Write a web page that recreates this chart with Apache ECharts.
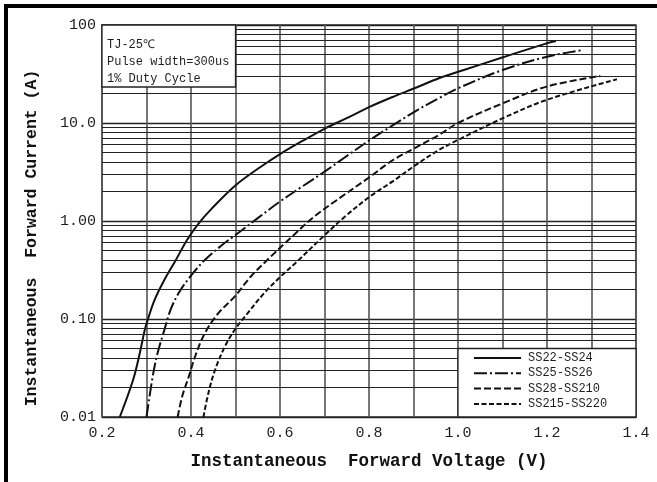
<!DOCTYPE html>
<html><head><meta charset="utf-8">
<script src="https://cdn.jsdelivr.net/npm/echarts@6/dist/echarts.min.js"></script>
<style>html,body{margin:0;padding:0;background:#fff}#c{width:657px;height:482px}</style>
</head><body><div id="c"></div>
<script>
// ---- data (V in volts, I in amps) ----
const seriesNames = ['SS22-SS24', 'SS25-SS26', 'SS28-SS210', 'SS215-SS220'];

const ss22V = [0.240, 0.270, 0.285, 0.296, 0.303, 0.318, 0.340, 0.366, 0.391, 0.416, 0.446, 0.501, 0.557, 0.601, 0.654, 0.702, 0.750, 0.800, 0.854, 0.902, 0.957, 1.013, 1.101, 1.199, 1.220];
const ss22I = [0.010, 0.024, 0.045, 0.077, 0.099, 0.156, 0.250, 0.400, 0.640, 0.93, 1.33, 2.33, 3.58, 4.85, 6.7, 8.83, 11.2, 14.5, 18.5, 22.6, 28.6, 34.7, 46.8, 65.0, 68.7];

const ss25V = [0.300, 0.314, 0.325, 0.340, 0.354, 0.372, 0.398, 0.431, 0.468, 0.500, 0.550, 0.600, 0.650, 0.705, 0.750, 0.802, 0.854, 0.902, 0.957, 1.000, 1.100, 1.200, 1.281];
const ss25I = [0.010, 0.026, 0.045, 0.077, 0.124, 0.183, 0.270, 0.400, 0.56, 0.72, 1.07, 1.58, 2.25, 3.3, 4.6, 6.7, 9.5, 13.0, 17.9, 22.6, 34.7, 47.5, 55.6];

const ss28V = [0.370, 0.380, 0.395, 0.409, 0.431, 0.461, 0.498, 0.534, 0.579, 0.631, 0.676, 0.728, 0.800, 0.854, 0.902, 0.957, 1.000, 1.101, 1.199, 1.320];
const ss28I = [0.010, 0.0161, 0.0258, 0.0412, 0.0714, 0.114, 0.169, 0.270, 0.432, 0.72, 1.10, 1.64, 2.78, 4.19, 5.52, 7.55, 10.0, 15.9, 23.5, 30.2];

const ss215V = [0.428, 0.439, 0.454, 0.476, 0.498, 0.527, 0.564, 0.601, 0.638, 0.698, 0.743, 0.800, 0.854, 0.902, 0.957, 1.000, 1.101, 1.199, 1.357];
const ss215I = [0.010, 0.0175, 0.0302, 0.0521, 0.0773, 0.114, 0.183, 0.270, 0.385, 0.70, 1.08, 1.75, 2.55, 3.65, 5.30, 6.71, 11.2, 17.2, 27.9];

const xTickLabels = ['0.2', '0.4', '0.6', '0.8', '1.0', '1.2', '1.4'];
const yTickLabels = ['0.01', '0.10', '1.00', '10.0', '100'];
const noteLines = ['TJ-25℃', 'Pulse width=300us', '1% Duty Cycle'];
const xTitle = 'Instantaneous  Forward Voltage (V)';
const yTitle = 'Instantaneous  Forward Current (A)';

// ---- layout / style ----
const G = { left: 102, top: 25, width: 534, height: 392 };
const mono = '"Liberation Mono", "DejaVu Sans Mono", monospace';
const curveStyles = [
  { type: 'solid' },
  { type: [13, 3, 2, 3] },
  { type: [7, 3] },
  { type: [5, 2.5] }
];

// minor log grid lines (2..9 per decade)
const minorGrid = [];
[0.01, 0.1, 1, 10].forEach(d => { for (let k = 2; k <= 9; k++) minorGrid.push(+(k * d).toPrecision(3)); });

const zip = (a, b) => a.map((v, i) => [v, b[i]]);
const curveData = [zip(ss22V, ss22I), zip(ss25V, ss25I), zip(ss28V, ss28I), zip(ss215V, ss215I)];

const chart = echarts.init(document.getElementById('c'), null, { renderer: 'canvas' });

const series = curveData.map((d, i) => ({
  name: seriesNames[i],
  type: 'line',
  data: d,
  symbol: 'none',
  smooth: 0.35,
  z: 3,
  lineStyle: { color: '#111', width: 2, type: curveStyles[i].type },
  itemStyle: { color: '#111' }
}));

series.unshift({
  name: 'grid',
  type: 'line',
  data: [],
  z: 1,
  silent: true,
  markLine: {
    silent: true,
    symbol: ['none', 'none'],
    label: { show: false },
    animation: false,
    lineStyle: { color: '#222', width: 1, type: 'solid' },
    data: minorGrid.map(v => ({ yAxis: v }))
  }
});

const x05 = G.left + G.width * (0.5 - 0.2) / 1.2;
const x10 = G.left + G.width * (1.0 - 0.2) / 1.2;
const y005 = G.top + G.height * (2 - Math.log10(0.05)) / 4;

chart.setOption({
  animation: false,
  backgroundColor: '#fff',
  grid: { left: G.left, top: G.top, width: G.width, height: G.height, show: true, borderColor: '#333', borderWidth: 1.5, backgroundColor: '#fff' },
  xAxis: {
    type: 'value', min: 0.2, max: 1.4, interval: 0.1,
    axisLine: { show: false }, axisTick: { show: false },
    splitLine: { show: true, lineStyle: { color: '#555', width: 1.6 } },
    axisLabel: {
      margin: 9, color: '#1d1d28', fontFamily: mono, fontSize: 15,
      formatter: v => { const s = v.toFixed(1); return xTickLabels.includes(s) ? s : ''; }
    },
    name: xTitle, nameLocation: 'middle', nameGap: 36,
    nameTextStyle: { fontFamily: mono, fontWeight: 'bold', fontSize: 17.5, color: '#111' }
  },
  yAxis: {
    type: 'log', logBase: 10, min: 0.01, max: 100,
    axisLine: { show: false }, axisTick: { show: false },
    splitLine: { show: true, lineStyle: { color: '#222', width: 1.3 } },
    axisLabel: {
      margin: 6, color: '#1d1d28', fontFamily: mono, fontSize: 15,
      formatter: v => yTickLabels[Math.round(Math.log10(v)) + 2] || ''
    }
  },
  legend: {
    data: seriesNames,
    orient: 'vertical',
    left: x10 + 15, top: 352,
    padding: 0, itemGap: 3.3, itemWidth: 47, itemHeight: 12,
    z: 20,
    itemStyle: { opacity: 0 },
    textStyle: { fontFamily: mono, fontSize: 12, color: '#1d1d28', padding: [0, 0, 0, 2] }
  },
  graphic: [
    { type: 'line', z: 60, shape: { x1: 4, y1: 6, x2: 657, y2: 6 }, style: { stroke: '#000', lineWidth: 4 } },
    { type: 'line', z: 60, shape: { x1: 6, y1: 4, x2: 6, y2: 482 }, style: { stroke: '#000', lineWidth: 4 } },
    { type: 'rect', z: 50, shape: { x: G.left, y: G.top, width: x05 - G.left, height: 62 }, style: { fill: '#fff', stroke: '#222', lineWidth: 1.3 } },
    { type: 'rect', z: 10, shape: { x: x10, y: y005, width: G.left + G.width - x10, height: G.top + G.height - y005 }, style: { fill: '#fff', stroke: '#222', lineWidth: 1.3 } },
    ...noteLines.map((t, i) => ({
      type: 'text', z: 51, x: 107, y: 45 + i * 17,
      style: { text: t, font: '12px ' + mono, fill: '#1d1d28', align: 'left', verticalAlign: 'middle' }
    })),
    {
      type: 'text', z: 51, x: 31.5, y: 238, rotation: Math.PI / 2,
      style: { text: yTitle, font: 'bold 16.5px ' + mono, fill: '#111', align: 'center', verticalAlign: 'middle' }
    }
  ],
  series
});
</script>
</body></html>
